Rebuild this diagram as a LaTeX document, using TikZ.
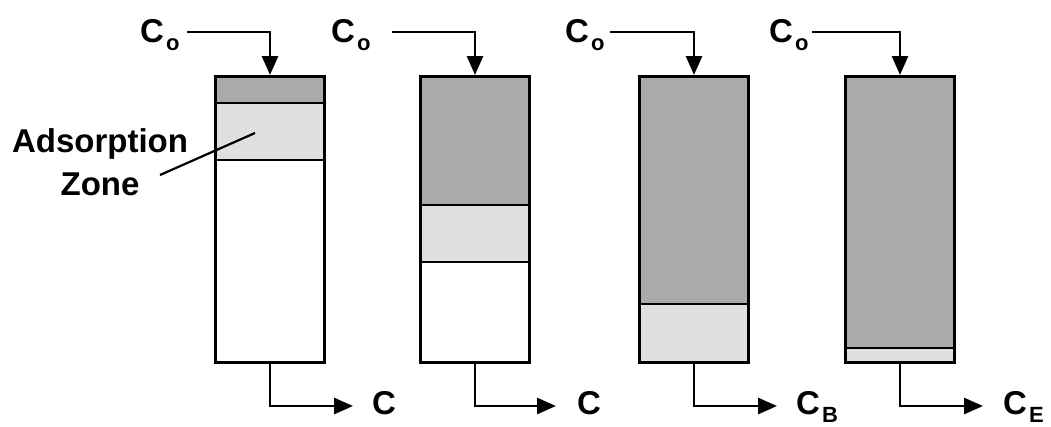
\documentclass[tikz,border=0pt]{standalone}
\usepackage{fontspec}
\setmainfont{Liberation Sans}
\usetikzlibrary{arrows.meta}
\definecolor{darkzone}{HTML}{AAAAAA}
\definecolor{lightzone}{HTML}{E0E0E0}
\newcommand{\lblsub}[1]{\hspace{2pt}\raisebox{-8pt}{\fontsize{22pt}{22pt}\selectfont #1}}
\begin{document}
\begin{tikzpicture}[x=1pt,y=-1pt,
  colbox/.style={draw=black, line width=3pt, minimum width=109pt, minimum height=286pt, anchor=north west, inner sep=0pt},
  sep/.style={line width=2.8pt},
  arr/.style={line width=2.8pt, -{Triangle[length=19pt,width=16pt]}},
  lbl/.style={font=\fontsize{33pt}{33pt}\selectfont\bfseries, inner sep=0pt, anchor=base west},
  zonelbl/.style={font=\fontsize{33pt}{33pt}\selectfont\bfseries, inner sep=0pt, anchor=base}]
\useasboundingbox (0,0) rectangle (1051,426);
% column 1
\fill[darkzone] (214,75) rectangle (323,103);
\fill[lightzone] (214,103) rectangle (323,160);
\draw[sep] (214,103) -- (323,103);
\draw[sep] (214,160) -- (323,160);
\node[colbox] (col1) at (214,75) {};
% column 2
\fill[darkzone] (419,75) rectangle (528,205);
\fill[lightzone] (419,205) rectangle (528,262);
\draw[sep] (419,205) -- (528,205);
\draw[sep] (419,262) -- (528,262);
\node[colbox] (col2) at (419,75) {};
% column 3
\fill[darkzone] (638,75) rectangle (747,304);
\fill[lightzone] (638,304) rectangle (747,361);
\draw[sep] (638,304) -- (747,304);
\node[colbox] (col3) at (638,75) {};
% column 4
\fill[darkzone] (844,75) rectangle (953,348);
\fill[lightzone] (844,348) rectangle (953,361);
\draw[sep] (844,348) -- (953,348);
\node[colbox] (col4) at (844,75) {};
% inlet labels
\node[lbl] (co1) at (140,42) {C\lblsub{o}};
\node[lbl] (co2) at (331,42) {C\lblsub{o}};
\node[lbl] (co3) at (565,42) {C\lblsub{o}};
\node[lbl] (co4) at (769,42) {C\lblsub{o}};
\coordinate (s1) at (187,32);
\coordinate (s2) at (392,32);
\coordinate (s3) at (610,32);
\coordinate (s4) at (812,32);
\draw[arr] (s1) -| (col1.north);
\draw[arr] (s2) -| (col2.north);
\draw[arr] (s3) -| (col3.north);
\draw[arr] (s4) -| (col4.north);
% outlet labels
\node[lbl] (c1) at (372,414) {C};
\node[lbl] (c2) at (577,414) {C};
\node[lbl] (c3) at (796,414) {C\lblsub{B}};
\node[lbl] (c4) at (1003,414) {C\lblsub{E}};
\coordinate (e1) at (353,406);
\coordinate (e2) at (556,406);
\coordinate (e3) at (777,406);
\coordinate (e4) at (983,406);
\draw[arr] (col1.south) |- (e1);
\draw[arr] (col2.south) |- (e2);
\draw[arr] (col3.south) |- (e3);
\draw[arr] (col4.south) |- (e4);
% adsorption zone label
\node[zonelbl] (zone1) at (100,152) {Adsorption};
\node[zonelbl] (zone2) at (100,195) {Zone};
\coordinate (zp) at (255,133);
\draw[line width=2.2pt] (160,175) -- (zp);
\end{tikzpicture}
\end{document}
